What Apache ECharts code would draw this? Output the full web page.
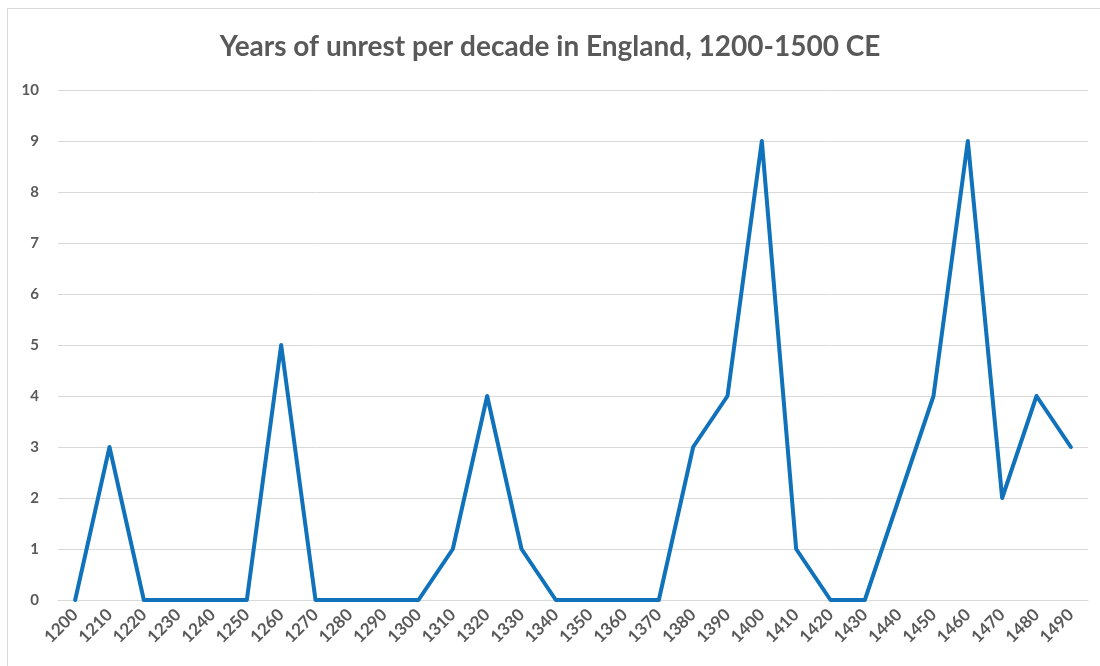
<!DOCTYPE html>
<html>
<head>
<meta charset="utf-8">
<script src="https://cdn.jsdelivr.net/npm/echarts@6/dist/echarts.min.js"></script>
<style>
html,body{margin:0;padding:0;background:#fff;overflow:hidden;}
#frame{position:absolute;left:7px;top:8px;width:1120px;height:700px;border:1px solid #d9d9d9;box-sizing:border-box;}
#chart{width:1100px;height:666px;position:absolute;left:0;top:0;}
</style>
</head>
<body>
<div id="frame"></div>
<div id="chart"></div>
<script>
const titleText = "Years of unrest per decade in England, 1200-1500 CE";
const decades = ["1200","1210","1220","1230","1240","1250","1260","1270","1280","1290",
  "1300","1310","1320","1330","1340","1350","1360","1370","1380","1390",
  "1400","1410","1420","1430","1440","1450","1460","1470","1480","1490"];
const unrestYears = [0,3,0,0,0,0,5,0,0,0, 0,1,4,1,0,0,0,0,3,4, 9,1,0,0,2,4,9,2,4,3];
const yTicks = {min:0, max:10, interval:1};

const chart = echarts.init(document.getElementById('chart'), null, {renderer:'canvas'});
chart.setOption({
  animation:false,
  title:{
    text:titleText, left:'center', top:28,
    textStyle:{fontFamily:'Lato, "Open Sans", sans-serif', fontSize:28, fontWeight:'bold', color:'#595959'}
  },
  grid:{left:58, right:12, top:90, bottom:66, containLabel:false},
  xAxis:{
    type:'category', data:decades, boundaryGap:true,
    axisLine:{show:true, lineStyle:{color:'#d9d9d9', width:1}},
    axisTick:{show:false},
    axisLabel:{rotate:45, interval:0, margin:12, color:'#595959', fontSize:17, fontWeight:'bold', fontFamily:'Lato, "Open Sans", sans-serif'}
  },
  yAxis:{
    type:'value', min:yTicks.min, max:yTicks.max, interval:yTicks.interval,
    axisLine:{show:false}, axisTick:{show:false},
    splitLine:{lineStyle:{color:'#d9d9d9', width:1}},
    axisLabel:{color:'#595959', fontSize:15, fontWeight:'bold', margin:19, fontFamily:'Lato, "Open Sans", sans-serif'}
  },
  series:[{
    type:'line', data:unrestYears, symbol:'none',
    lineStyle:{color:'#0f72bb', width:4, join:'round', cap:'round'}
  }]
});
</script>
</body>
</html>
